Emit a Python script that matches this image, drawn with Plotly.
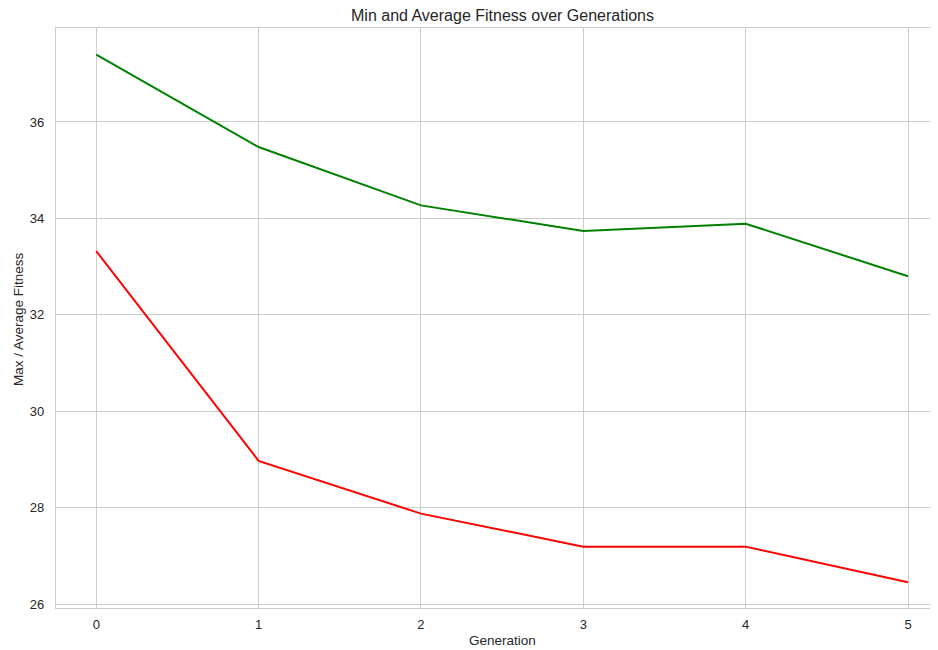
import plotly.graph_objects as go

generations = [0, 1, 2, 3, 4, 5]
avg_fitness = [37.40, 35.48, 34.27, 33.74, 33.89, 32.80]
min_fitness = [33.32, 28.97, 27.875, 27.19, 27.19, 26.45]
y_ticks = [26, 28, 30, 32, 34, 36]

FONT = "Liberation Sans, Arial, sans-serif"
TXT = "#262626"
GRID = "#cccccc"

# page body has an 8px margin; the figure is sized/positioned to compensate
W, H = 946, 642
PX_PER_GEN = 162.35
X0 = -0.248

fig = go.Figure()
fig.add_trace(go.Scatter(x=generations, y=avg_fitness, mode="lines",
                         line=dict(color="green", width=2), showlegend=False))
fig.add_trace(go.Scatter(x=generations, y=min_fitness, mode="lines",
                         line=dict(color="red", width=2), showlegend=False))

fig.update_layout(
    width=W, height=H,
    margin=dict(l=48, r=0, t=20, b=42, autoexpand=False),
    paper_bgcolor="white", plot_bgcolor="white",
    font=dict(family=FONT, color=TXT, size=13),
    title=dict(text="Min and Average Fitness over Generations",
               x=494.5 / W, xref="container", xanchor="center",
               y=1 - 7.5 / H, yref="container", yanchor="middle",
               font=dict(size=16, color=TXT)),
    annotations=[
        dict(text="Generation", xref="paper", yref="paper",
             x=(494.5 - 48) / (W - 48), y=-(632 - 600) / 580,
             xanchor="center", yanchor="middle", showarrow=False,
             font=dict(size=13.5, color=TXT)),
        dict(text="Max / Average Fitness", xref="paper", yref="paper",
             x=-(48 - 11) / (W - 48), y=(600 - 311) / 580, textangle=-90,
             xanchor="center", yanchor="middle", showarrow=False,
             font=dict(size=13.5, color=TXT)),
    ],
)
fig.update_xaxes(range=[X0, X0 + (W - 48) / PX_PER_GEN], tickvals=generations,
                 showgrid=True, gridcolor=GRID, gridwidth=1,
                 showline=True, linecolor=GRID, linewidth=1.2, mirror=True,
                 zeroline=False, ticks="", ticklabelstandoff=4,
                 tickfont=dict(size=13, color=TXT),
                 automargin=False)
fig.update_yaxes(range=[25.917, 37.95], tickvals=y_ticks,
                 showgrid=True, gridcolor=GRID, gridwidth=1,
                 showline=True, linecolor=GRID, linewidth=1.2, mirror=False,
                 zeroline=False, ticks="", ticklabelstandoff=8,
                 tickfont=dict(size=13, color=TXT),
                 automargin=False)

fig.write_html("out.html")
